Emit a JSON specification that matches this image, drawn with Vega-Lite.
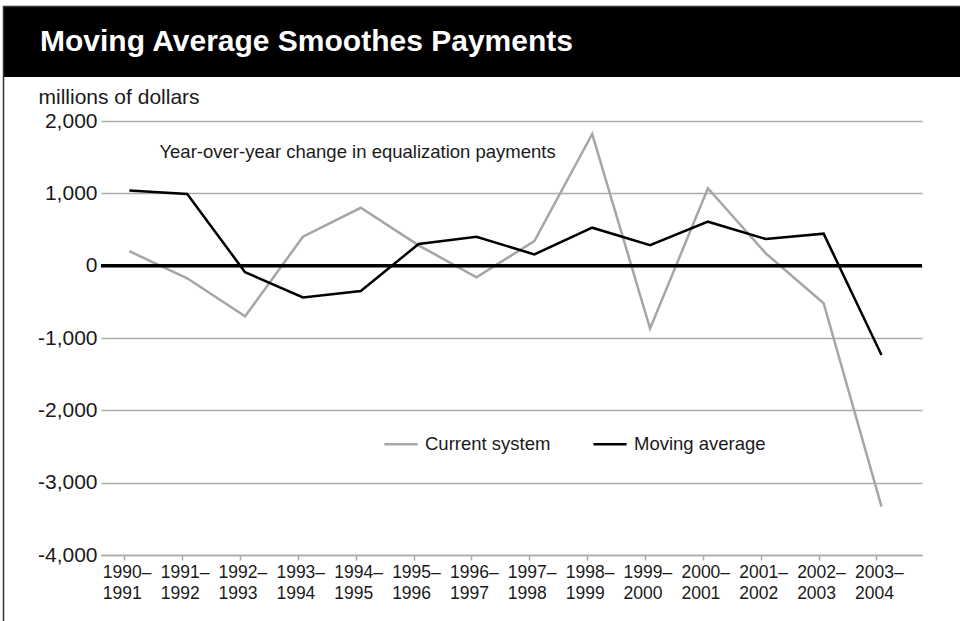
{
  "$schema": "https://vega.github.io/schema/vega-lite/v6.json",
  "autosize": "none",
  "width": 821,
  "height": 434,
  "padding": {"left": 101, "top": 121, "right": 38, "bottom": 66},
  "background": "white",
  "config": {
    "view": {"stroke": null},
    "font": "Liberation Sans"
  },
  "datasets": {
    "payments": [
      {"period": "1990–1991", "start": 1990, "series": "Current system", "value": 200},
      {"period": "1991–1992", "start": 1991, "series": "Current system", "value": -175},
      {"period": "1992–1993", "start": 1992, "series": "Current system", "value": -700},
      {"period": "1993–1994", "start": 1993, "series": "Current system", "value": 400},
      {"period": "1994–1995", "start": 1994, "series": "Current system", "value": 800},
      {"period": "1995–1996", "start": 1995, "series": "Current system", "value": 280},
      {"period": "1996–1997", "start": 1996, "series": "Current system", "value": -160},
      {"period": "1997–1998", "start": 1997, "series": "Current system", "value": 340},
      {"period": "1998–1999", "start": 1998, "series": "Current system", "value": 1820},
      {"period": "1999–2000", "start": 1999, "series": "Current system", "value": -870},
      {"period": "2000–2001", "start": 2000, "series": "Current system", "value": 1070},
      {"period": "2001–2002", "start": 2001, "series": "Current system", "value": 170},
      {"period": "2002–2003", "start": 2002, "series": "Current system", "value": -520},
      {"period": "2003–2004", "start": 2003, "series": "Current system", "value": -3330},
      {"period": "1990–1991", "start": 1990, "series": "Moving average", "value": 1040},
      {"period": "1991–1992", "start": 1991, "series": "Moving average", "value": 990},
      {"period": "1992–1993", "start": 1992, "series": "Moving average", "value": -90},
      {"period": "1993–1994", "start": 1993, "series": "Moving average", "value": -440},
      {"period": "1994–1995", "start": 1994, "series": "Moving average", "value": -350},
      {"period": "1995–1996", "start": 1995, "series": "Moving average", "value": 300},
      {"period": "1996–1997", "start": 1996, "series": "Moving average", "value": 400},
      {"period": "1997–1998", "start": 1997, "series": "Moving average", "value": 155},
      {"period": "1998–1999", "start": 1998, "series": "Moving average", "value": 525},
      {"period": "1999–2000", "start": 1999, "series": "Moving average", "value": 282},
      {"period": "2000–2001", "start": 2000, "series": "Moving average", "value": 608},
      {"period": "2001–2002", "start": 2001, "series": "Moving average", "value": 369},
      {"period": "2002–2003", "start": 2002, "series": "Moving average", "value": 442},
      {"period": "2003–2004", "start": 2003, "series": "Moving average", "value": -1235}
    ],
    "one": [{}]
  },
  "layer": [
    {
      "data": {"name": "one"},
      "mark": {"type": "rect", "fill": "black", "stroke": null},
      "encoding": {
        "x": {"value": -97.5},
        "x2": {"value": 880},
        "y": {"value": -114},
        "y2": {"value": -44}
      }
    },
    {
      "data": {"name": "one"},
      "mark": {"type": "rect", "fill": null, "stroke": "#333333", "strokeWidth": 1.5},
      "encoding": {
        "x": {"value": -97.5},
        "x2": {"value": 880},
        "y": {"value": -114.5},
        "y2": {"value": 520}
      }
    },
    {
      "data": {"name": "one"},
      "mark": {"type": "text", "text": "Moving Average Smoothes Payments", "color": "white", "fontWeight": "bold", "fontSize": 30, "align": "left", "baseline": "alphabetic"},
      "encoding": {
        "x": {"value": -61},
        "y": {"value": -70}
      }
    },
    {
      "data": {"name": "one"},
      "mark": {"type": "text", "text": "Year-over-year change in equalization payments", "color": "#1a1a1a", "fontSize": 18.5, "align": "left", "baseline": "middle"},
      "encoding": {
        "x": {"datum": 1990.52, "type": "quantitative", "scale": {"domain": [1989.51, 2003.7], "nice": false, "zero": false}},
        "y": {"datum": 1576, "type": "quantitative"}
      }
    },
    {
      "data": {"name": "payments"},
      "mark": {"type": "line", "strokeWidth": 2.5},
      "encoding": {
        "x": {
          "field": "start",
          "type": "quantitative",
          "scale": {"domain": [1989.51, 2003.7], "nice": false, "zero": false},
          "axis": {
            "title": null,
            "values": [1990, 1991, 1992, 1993, 1994, 1995, 1996, 1997, 1998, 1999, 2000, 2001, 2002, 2003],
            "labelExpr": "[datum.value + '–', '' + (datum.value + 1)]",
            "grid": false,
            "domain": true,
            "domainColor": "#aaaaaa",
            "domainWidth": 1.5,
            "ticks": true,
            "tickColor": "#aaaaaa",
            "tickWidth": 1.5,
            "tickSize": 5,
            "tickOffset": -5,
            "labelOffset": -22,
            "labelAlign": "left",
            "labelFlush": false,
            "labelOverlap": false,
            "labelFontSize": 17.5,
            "labelColor": "#1a1a1a",
            "labelLineHeight": 21,
            "labelPadding": 3
          }
        },
        "y": {
          "field": "value",
          "type": "quantitative",
          "scale": {"domain": [-4000, 2000], "nice": false, "zero": false},
          "axis": {
            "title": "millions of dollars",
            "titleAngle": 0,
            "titleAlign": "left",
            "titleBaseline": "alphabetic",
            "titleX": -63,
            "titleY": -18,
            "titleFontSize": 21,
            "titleFontWeight": "normal",
            "titleColor": "#1a1a1a",
            "values": [-4000, -3000, -2000, -1000, 0, 1000, 2000],
            "labelExpr": "replace(format(datum.value, ',.0f'), '−', '-')",
            "grid": true,
            "gridColor": "#aaaaaa",
            "gridWidth": 1.5,
            "domain": false,
            "ticks": false,
            "labelFontSize": 21,
            "labelColor": "#1a1a1a",
            "labelPadding": 4
          }
        },
        "color": {
          "field": "series",
          "type": "nominal",
          "scale": {"domain": ["Current system", "Moving average"], "range": ["#a6a6a6", "#000000"]},
          "legend": {
            "title": null,
            "orient": "none",
            "legendX": 282,
            "legendY": 305,
            "direction": "horizontal",
            "symbolType": "stroke",
            "symbolSize": 1100,
            "symbolStrokeWidth": 2.5,
            "labelFontSize": 18.5,
            "labelColor": "#1a1a1a",
            "labelOffset": 6,
            "columnPadding": 37,
            "padding": 0
          }
        }
      }
    },
    {
      "data": {"name": "one"},
      "mark": {"type": "rule", "color": "black", "strokeWidth": 3.5},
      "encoding": {
        "y": {"datum": 0, "type": "quantitative"}
      }
    }
  ]
}
